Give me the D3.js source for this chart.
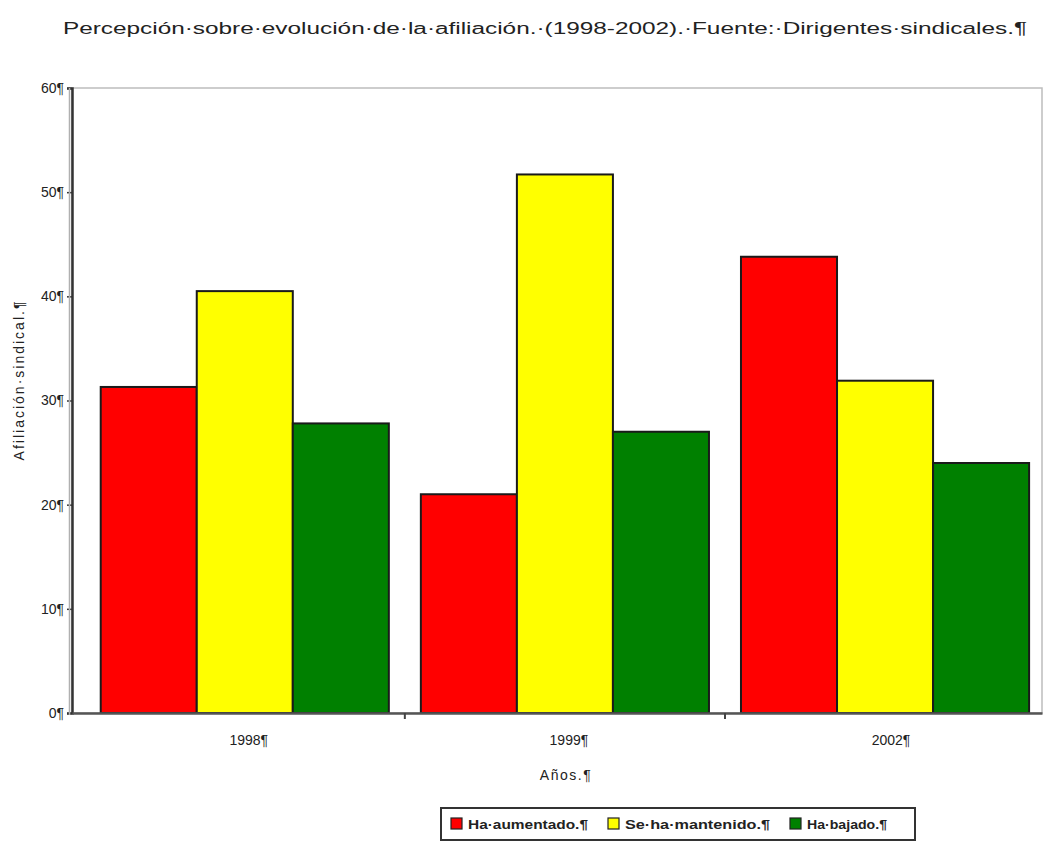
<!DOCTYPE html>
<html>
<head>
<meta charset="utf-8">
<script src="https://cdn.jsdelivr.net/npm/d3@7"></script>
<style>
  html, body { margin: 0; padding: 0; background: #fff; }
  svg { display: block; }
  text { font-family: "Liberation Sans", Arial, sans-serif; fill: #222; }
</style>
</head>
<body>
<svg id="chart" width="1050" height="843"></svg>
<script>
// Perception of union membership evolution, by year
const years = ["1998", "1999", "2002"];
const yearLabels = ["1998¶", "1999¶", "2002¶"];
const seriesNames = ["Ha·aumentado.", "Se·ha·mantenido.", "Ha·bajado."];
const seriesColors = ["#ff0000", "#ffff00", "#008000"];
const haAumentado = [31.3, 21.0, 43.8];
const seHaMantenido = [40.5, 51.7, 31.9];
const haBajado = [27.8, 27.0, 24.0];
const yTicks = [0, 10, 20, 30, 40, 50, 60];

const seriesValues = [haAumentado, seHaMantenido, haBajado];

const svg = d3.select("#chart");
const plot = { left: 72, right: 1042, top: 88, bottom: 713 };

const x0 = d3.scaleBand()
  .domain(years)
  .range([plot.left, plot.right])
  .paddingInner(0.1)
  .paddingOuter(0.065)
  .align(0.69);

const x1 = d3.scaleBand()
  .domain(d3.range(seriesNames.length))
  .range([0, x0.bandwidth()]);

const y = d3.scaleLinear().domain([0, 60]).range([plot.bottom, plot.top]);

// Title
svg.append("text")
  .attr("x", 63).attr("y", 34)
  .attr("font-size", 16)
  .attr("textLength", 964)
  .attr("lengthAdjust", "spacingAndGlyphs")
  .text("Percepción·sobre·evolución·de·la·afiliación.·(1998-2002).·Fuente:·Dirigentes·sindicales.¶");

// Plot frame (light)
svg.append("rect")
  .attr("x", plot.left).attr("y", plot.top)
  .attr("width", plot.right - plot.left).attr("height", plot.bottom - plot.top)
  .attr("fill", "none").attr("stroke", "#bdbdbd").attr("stroke-width", 1.5);

// Bars
const groups = svg.append("g").selectAll("g")
  .data(years)
  .join("g")
  .attr("transform", d => `translate(${x0(d)},0)`);

groups.selectAll("rect")
  .data((d, i) => seriesValues.map((vals, s) => ({ s, v: vals[i] })))
  .join("rect")
  .attr("x", d => x1(d.s))
  .attr("y", d => y(d.v))
  .attr("width", x1.bandwidth())
  .attr("height", d => y(0) - y(d.v))
  .attr("fill", d => seriesColors[d.s])
  .attr("stroke", "#1a1a1a")
  .attr("stroke-width", 2);

// Y axis
const yAxis = d3.axisLeft(y)
  .tickValues(yTicks)
  .tickSize(5)
  .tickPadding(3)
  .tickFormat(d => d + "¶");
const gy = svg.append("g").attr("transform", `translate(${plot.left},0)`).call(yAxis);
gy.select(".domain").attr("stroke", "#333").attr("stroke-width", 2.5);
gy.selectAll(".tick line").attr("stroke", "#333").attr("stroke-width", 1.5);
gy.selectAll(".tick text").attr("font-size", 14).attr("fill", "#222");

// Shadow alongside the y axis
svg.append("line")
  .attr("x1", plot.left - 2.5).attr("x2", plot.left - 2.5)
  .attr("y1", plot.top).attr("y2", plot.bottom + 2)
  .attr("stroke", "#b0b0b0").attr("stroke-width", 1.5);

// X axis
const xAxis = d3.axisBottom(x0).tickSize(0).tickPadding(22)
  .tickFormat((d, i) => yearLabels[i]);
const gx = svg.append("g").attr("transform", `translate(0,${plot.bottom})`).call(xAxis);
gx.select(".domain").attr("stroke", "#555").attr("stroke-width", 2.5);
gx.selectAll(".tick text").attr("font-size", 14).attr("fill", "#222")
  .attr("dx", (d, i) => [4, 4, 6][i]);

// Category separator ticks below the axis
const seps = years.slice(1).map(d => x0(d) - x0.step() * x0.paddingInner() / 2);
svg.append("g").selectAll("line")
  .data(seps)
  .join("line")
  .attr("x1", d => d).attr("x2", d => d)
  .attr("y1", plot.bottom).attr("y2", plot.bottom + 6)
  .attr("stroke", "#444").attr("stroke-width", 2);

// Axis titles
svg.append("text")
  .attr("x", 566).attr("y", 780)
  .attr("text-anchor", "middle")
  .attr("font-size", 14)
  .attr("letter-spacing", 1.5)
  .text("Años.¶");

svg.append("text")
  .attr("transform", "translate(24,380) rotate(-90)")
  .attr("text-anchor", "middle")
  .attr("font-size", 14)
  .attr("letter-spacing", 2)
  .text("Afiliación·sindical.¶");

// Legend
const legend = svg.append("g");
legend.append("rect")
  .attr("x", 441).attr("y", 808).attr("width", 474).attr("height", 32)
  .attr("fill", "#fff").attr("stroke", "#333").attr("stroke-width", 2);

const legendX = [451, 608, 790];
const legendW = [140, 165, 100];
const items = legend.selectAll("g.item")
  .data(seriesNames)
  .join("g")
  .attr("class", "item")
  .attr("transform", (d, i) => `translate(${legendX[i]},818)`);
items.append("rect")
  .attr("width", 11).attr("height", 11)
  .attr("fill", (d, i) => seriesColors[i])
  .attr("stroke", "#222").attr("stroke-width", 1.2);
items.append("text")
  .attr("x", 17).attr("y", 11)
  .attr("font-size", 13)
  .attr("font-weight", "bold")
  .attr("textLength", (d, i) => legendW[i] - 20)
  .attr("lengthAdjust", "spacingAndGlyphs")
  .text(d => d + "¶");
</script>
</body>
</html>
